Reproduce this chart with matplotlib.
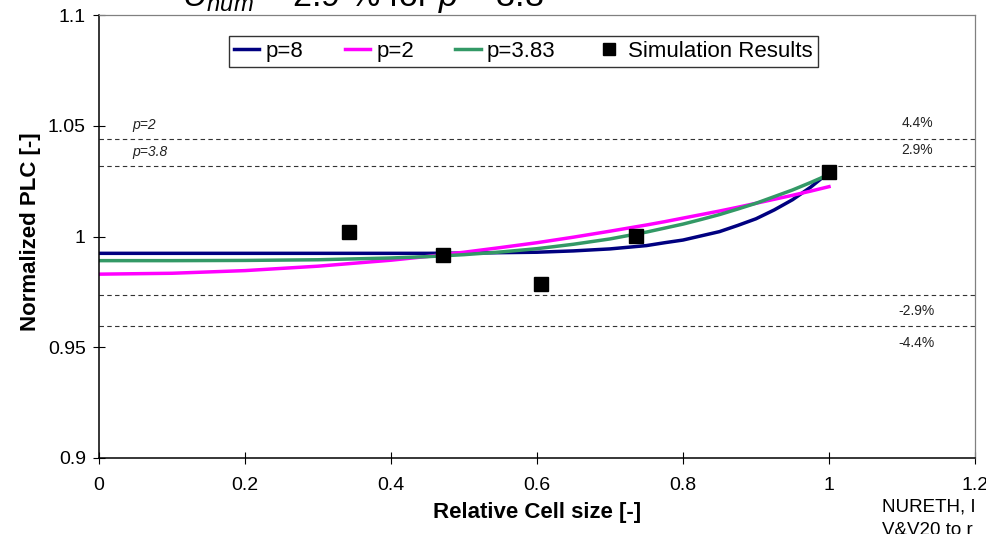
import matplotlib
matplotlib.use("Agg")
import matplotlib.pyplot as plt

plt.rcParams['font.family'] = 'Liberation Sans'
plt.rcParams['mathtext.fontset'] = 'custom'
plt.rcParams['mathtext.rm'] = 'Liberation Sans'
plt.rcParams['mathtext.it'] = 'Liberation Sans:italic'

# fitted curves, sampled along the relative cell size
cell_size = [0, 0.1, 0.2, 0.3, 0.4, 0.45, 0.5, 0.55, 0.6, 0.65, 0.7, 0.75, 0.775,
             0.8, 0.825, 0.85, 0.875, 0.9, 0.925, 0.95, 0.975, 1.0]
fit_p8 = [0.9924, 0.9924, 0.9924, 0.9924, 0.9924, 0.9924, 0.9925, 0.9927, 0.9929,
          0.9935, 0.9944, 0.9959, 0.9972, 0.9984, 1.0003, 1.0022, 1.0050, 1.0080,
          1.0120, 1.0166, 1.0223, 1.0290]
fit_p2 = [0.9830, 0.9834, 0.9846, 0.9866, 0.9893, 0.9910, 0.9929, 0.9950, 0.9972,
          0.9997, 1.0024, 1.0052, 1.0067, 1.0083, 1.0099, 1.0115, 1.0132, 1.0150,
          1.0168, 1.0186, 1.0205, 1.0225]
fit_p383 = [0.9891, 0.9891, 0.9892, 0.9895, 0.9903, 0.9909, 0.9918, 0.9930, 0.9945,
            0.9965, 0.9989, 1.0020, 1.0038, 1.0056, 1.0077, 1.0099, 1.0124, 1.0150,
            1.0180, 1.0210, 1.0244, 1.0280]

# simulation points
sim_size = [0.342, 0.471, 0.605, 0.736, 1.0]
sim_plc = [1.0020, 0.9915, 0.9787, 1.0003, 1.0290]

# uncertainty band levels
band_levels = [1.0440, 1.0317, 0.9738, 0.9594]
band_pct = ['4.4%', '2.9%', '-2.9%', '-4.4%']
band_tags = ['p=2', 'p=3.8', '', '']

fig = plt.figure(figsize=(9.86, 5.34), dpi=100)
ax = fig.add_axes([99 / 986, 76 / 534, 876 / 986, 443 / 534])

ax.plot(cell_size, fit_p8, color='#000080', lw=2.5, label='p=8')
ax.plot(cell_size, fit_p2, color='#FF00FF', lw=2.5, label='p=2')
ax.plot(cell_size, fit_p383, color='#339966', lw=2.5, label='p=3.83')
ax.plot(sim_size, sim_plc, 's', color='black', ms=10, label='Simulation Results', zorder=5)

for lvl, pct, tag in zip(band_levels, band_pct, band_tags):
    ax.axhline(lvl, color='#333333', lw=0.8, ls=(0, (4, 3)), zorder=1)
    off = 11.5 if lvl > 1 else -12
    ax.annotate(pct, (1.1205, lvl), xytext=(0, off), textcoords='offset points',
                ha='center', va='center', fontsize=10, color='#222222')
    if tag:
        ax.annotate(tag, (0.045, lvl), xytext=(0, 10), textcoords='offset points',
                    ha='left', va='center', fontsize=10, style='italic', color='#222222')

ax.set_xlim(0, 1.2)
ax.set_ylim(0.9, 1.1)
ax.set_xticks([0, 0.2, 0.4, 0.6, 0.8, 1, 1.2])
ax.set_xticklabels(['0', '0.2', '0.4', '0.6', '0.8', '1', '1.2'])
ax.set_yticks([0.9, 0.95, 1, 1.05, 1.1])
ax.set_yticklabels(['0.9', '0.95', '1', '1.05', '1.1'])
ax.tick_params(direction='inout', length=9, width=0.8, labelsize=14)
ax.tick_params(axis='x', pad=9)
ax.tick_params(axis='y', pad=5)

for side in ['left', 'bottom']:
    ax.spines[side].set_color('black')
    ax.spines[side].set_linewidth(1.1)
for side in ['top', 'right']:
    ax.spines[side].set_color('#808080')
    ax.spines[side].set_linewidth(0.9)

ax.set_xlabel('Relative Cell size [-]', fontsize=16, fontweight='bold')
ax.xaxis.set_label_coords(0.5, -0.099)
ax.xaxis.label.set_va('top')
ax.set_ylabel('Normalized PLC [-]', fontsize=16, fontweight='bold')
ax.yaxis.set_label_coords(-0.066, 0.51)

leg = ax.legend(loc='upper left', bbox_to_anchor=(130 / 876, 422 / 443),
                ncol=4, fontsize=16, frameon=True, fancybox=False,
                edgecolor='black', handlelength=1.15, handletextpad=0.28,
                columnspacing=1.85, borderpad=0.22, markerscale=0.8, borderaxespad=0)
leg.get_frame().set_linewidth(1.0)

fig.text(182 / 986, 1 - 6 / 534, r'$U_{num}$ = 2.9 % for $p$ = 3.8', fontsize=24.5,
         ha='left', va='baseline')
fig.text(882 / 986, 1 - 511 / 534, 'NURETH, I', fontsize=13.5, ha='left', va='baseline')
fig.text(882 / 986, 1 - 535 / 534, 'V&V20 to r', fontsize=13.5, ha='left', va='baseline')

fig.savefig('out.png', dpi=100)
